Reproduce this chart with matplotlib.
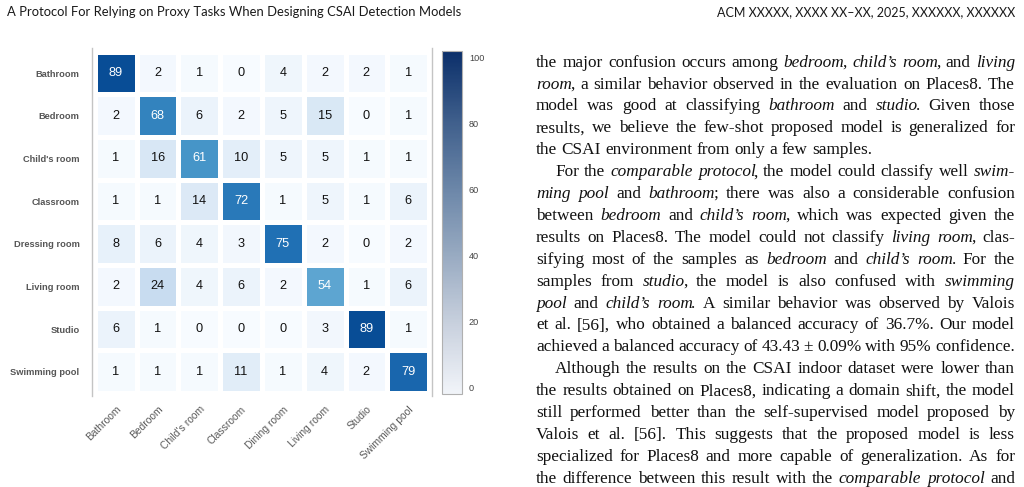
import numpy as np
import matplotlib
matplotlib.use("Agg")
import matplotlib.pyplot as plt
from matplotlib.colors import LinearSegmentedColormap, Normalize
from matplotlib.cm import ScalarMappable

W, H = 1024, 487

# confusion matrix (rows: true class, cols: predicted class)
true_labels = ["Bathroom", "Bedroom", "Child's room", "Classroom",
               "Dressing room", "Living room", "Studio", "Swimming pool"]
pred_labels = ["Bathroom", "Bedroom", "Child's room", "Classroom",
               "Dining room", "Living room", "Studio", "Swimming pool"]
confusion = np.array([
    [89, 2, 1, 0, 4, 2, 2, 1],
    [2, 68, 6, 2, 5, 15, 0, 1],
    [1, 16, 61, 10, 5, 5, 1, 1],
    [1, 1, 14, 72, 1, 5, 1, 6],
    [8, 6, 4, 3, 75, 2, 0, 2],
    [2, 24, 4, 6, 2, 54, 1, 6],
    [6, 1, 0, 0, 0, 3, 89, 1],
    [1, 1, 1, 11, 1, 4, 2, 79],
])
cbar_ticks = [0, 20, 40, 60, 80, 100]

header_left = "A Protocol For Relying on Proxy Tasks When Designing CSAI Detection Models"
header_right = "ACM XXXXX, XXXX XX\u2013XX, 2025, XXXXXX, XXXXXX"

# body text, _..._ marks italics; (text, indent, justify)
body_lines = [
    ("the major confusion occurs among _bedroom_, _child\u2019s room_, and _living_", False, True),
    ("_room_, a similar behavior observed in the evaluation on Places8. The", False, True),
    ("model was good at classifying _bathroom_ and _studio_. Given those", False, True),
    ("results, we believe the few-shot proposed model is generalized for", False, True),
    ("the CSAI environment from only a few samples.", False, False),
    ("For the _comparable protocol_, the model could classify well _swim-_", True, True),
    ("_ming pool_ and _bathroom_; there was also a considerable confusion", False, True),
    ("between _bedroom_ and _child\u2019s room_, which was expected given the", False, True),
    ("results on Places8. The model could not classify _living room_, clas-", False, True),
    ("sifying most of the samples as _bedroom_ and _child\u2019s room_. For the", False, True),
    ("samples from _studio_, the model is also confused with _swimming_", False, True),
    ("_pool_ and _child\u2019s room_. A similar behavior was observed by Valois", False, True),
    ("et al. [56], who obtained a balanced accuracy of 36.7%. Our model", False, True),
    ("achieved a balanced accuracy of 43.43 \u00b1 0.09% with 95% confidence.", False, True),
    ("Although the results on the CSAI indoor dataset were lower than", True, True),
    ("the results obtained on Places8, indicating a domain shift, the model", False, True),
    ("still performed better than the self-supervised model proposed by", False, True),
    ("Valois et al. [56]. This suggests that the proposed model is less", False, True),
    ("specialized for Places8 and more capable of generalization. As for", False, True),
    ("the difference between this result with the _comparable protocol_ and", False, True),
]

fig = plt.figure(figsize=(W / 100, H / 100), dpi=100)
fig.patch.set_facecolor("white")
renderer = fig.canvas.get_renderer()


def px(x, y):
    # pixel coords (top-left origin) -> figure fraction
    return x / W, 1 - y / H


def text_width(s, **kw):
    t = fig.text(0, 0, s, **kw)
    w = t.get_window_extent(renderer).width
    t.remove()
    return w


# ---- heatmap ----
ax = fig.add_axes([92 / W, 1 - 396 / H, 340 / W, 348 / H])
ax.pcolormesh(confusion, cmap="Blues", vmin=0, vmax=100,
              edgecolors="white", linewidth=2.2)
ax.set_xlim(-0.07, 8.07)
ax.set_ylim(8.07, -0.09)
for i in range(confusion.shape[0]):
    for j in range(confusion.shape[1]):
        v = confusion[i, j]
        ax.text(j + 0.5, i + 0.5, str(v), ha="center", va="center",
                fontsize=9.2, family="Liberation Sans",
                color="white" if v > 50 else "#111111")

ax.set_yticks(np.arange(8) + 0.5)
ax.set_yticklabels(true_labels, fontsize=6.7, fontweight="bold",
                   color="#555555", family="Liberation Sans")
ax.set_xticks(np.arange(8) + 0.5)
ax.set_xticklabels(pred_labels, fontsize=7.4, color="#5a5a5a",
                   family="Liberation Sans", rotation=45, ha="right",
                   rotation_mode="anchor")
ax.tick_params(axis="y", length=0, pad=9)
ax.tick_params(axis="x", length=0, pad=6)
for side in ["top", "bottom"]:
    ax.spines[side].set_visible(False)
for side in ["left", "right"]:
    ax.spines[side].set_color("#c4c4c4")
    ax.spines[side].set_linewidth(1.0)

# ---- colorbar ----
cbar_cmap = LinearSegmentedColormap.from_list("cb", [
    (0.0, "#f1f4f9"), (0.2, "#c9d1de"), (0.4, "#99abc2"),
    (0.6, "#6b86a8"), (0.8, "#3e5e8b"), (1.0, "#0b2f6a")])
cax = fig.add_axes([442 / W, 1 - 394 / H, 20 / W, 343 / H])
cb = fig.colorbar(ScalarMappable(norm=Normalize(-2, 102), cmap=cbar_cmap),
                  cax=cax, ticks=cbar_ticks)
cb.outline.set_edgecolor("#b0b0b0")
cb.outline.set_linewidth(0.8)
cax.tick_params(length=0, pad=5, labelsize=6.6, labelcolor="#444444")
for lab in cax.get_yticklabels():
    lab.set_family("Liberation Sans")

# ---- running header ----
hdr_kw = dict(family="Lato", color="#1a1a1a")
s = 10 * 456 / text_width(header_left, fontsize=10, **hdr_kw)
fig.text(*px(7, 16.5), header_left, fontsize=s, va="baseline", **hdr_kw)
s = 10 * 298 / text_width(header_right, fontsize=10, **hdr_kw)
fig.text(*px(1015, 16.5), header_right, fontsize=s, va="baseline",
         ha="right", **hdr_kw)

# ---- body text column ----
col_left, col_right = 536, 1015
indent_px = 19
italic_kern = 1.8  # italic extents overhang a little before upright punctuation


def parse(line):
    words, pieces, cur, italic = [], [], "", False
    for ch in line:
        if ch == "_":
            if cur:
                pieces.append((cur, italic))
            cur, italic = "", not italic
        elif ch == " ":
            if cur:
                pieces.append((cur, italic))
            words.append(pieces)
            pieces, cur = [], ""
        else:
            cur += ch
    if cur:
        pieces.append((cur, italic))
    words.append(pieces)
    return words


def measure(words, kw):
    out = []
    for w in words:
        ws = []
        for n, (p, it) in enumerate(w):
            pw = text_width(p, style="italic" if it else "normal", **kw)
            if it and n < len(w) - 1:
                pw -= italic_kern
            ws.append(pw)
        out.append(ws)
    return out


# pick the largest size at which the tightest justified line still fits
base_kw = dict(family="Liberation Serif", fontsize=11, color="#111111")
base_space = text_width("a b", **base_kw) - text_width("ab", **base_kw)
scale = 10.0
for line, indent, justify in body_lines:
    if not justify:
        continue
    words = parse(line)
    nat = sum(sum(w) for w in measure(words, base_kw))
    nat += 0.85 * base_space * (len(words) - 1)
    avail = col_right - col_left - (indent_px if indent else 0)
    scale = min(scale, avail / nat)
body_kw = dict(base_kw, fontsize=11 * scale)
space_w = text_width("a b", **body_kw) - text_width("ab", **body_kw)

for k, (line, indent, justify) in enumerate(body_lines):
    y = 66.7 + k * 21.9
    words = parse(line)
    widths = measure(words, body_kw)
    x0 = col_left + (indent_px if indent else 0)
    natural = sum(sum(w) for w in widths)
    gap = space_w
    if justify and len(words) > 1:
        gap = (col_right - x0 - natural) / (len(words) - 1)
    x = x0
    for w, ws in zip(words, widths):
        for (p, it), pw in zip(w, ws):
            fig.text(*px(x, y), p, va="baseline",
                     style="italic" if it else "normal", **body_kw)
            x += pw
        x += gap

fig.savefig("out.png", dpi=100, facecolor="white")
